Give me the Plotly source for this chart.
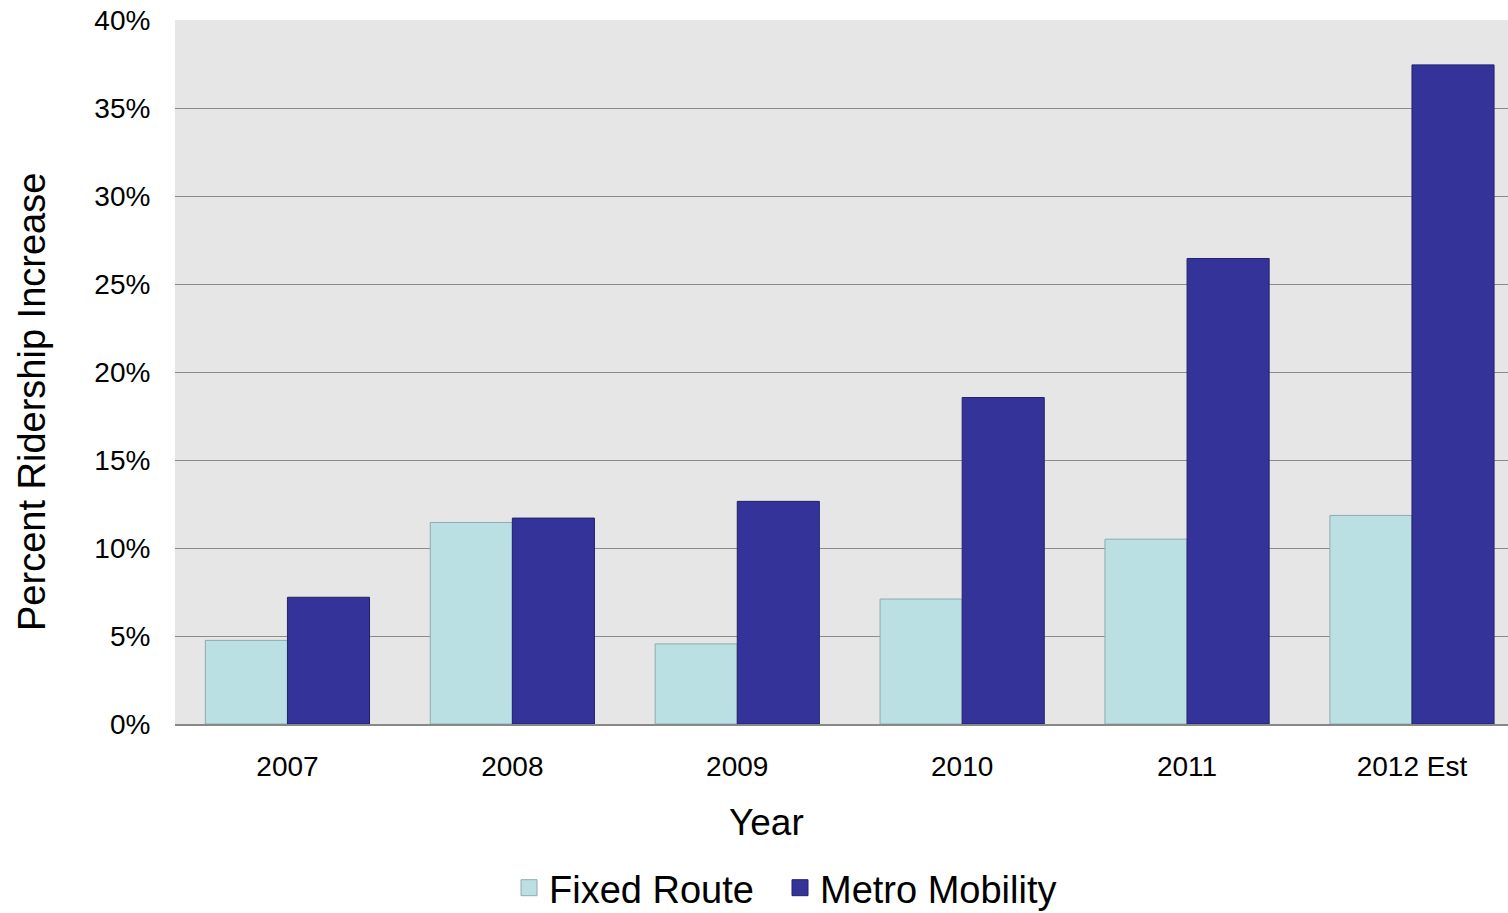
import plotly.graph_objects as go

years = ["2007", "2008", "2009", "2010", "2011", "2012 Est"]
fixed_route = [4.75, 11.45, 4.55, 7.1, 10.5, 11.85]
metro_mobility = [7.2, 11.7, 12.65, 18.55, 26.45, 37.45]
y_ticks = [0, 5, 10, 15, 20, 25, 30, 35, 40]

FONT = "Arial, 'Liberation Sans', sans-serif"
FIXED_COLOR = "#BBE0E3"
METRO_COLOR = "#333399"

# plot-area geometry in pixels
PLOT_LEFT, PLOT_TOP, PLOT_BOTTOM, FIG_W, FIG_H = 175, 20, 724, 1508, 913
PLOT_W = FIG_W - PLOT_LEFT
PLOT_H = PLOT_BOTTOM - PLOT_TOP

fig = go.Figure()
fig.add_trace(go.Bar(
    x=years, y=fixed_route, name="Fixed Route",
    marker=dict(color=FIXED_COLOR, line=dict(color="#8FAAAD", width=1)),
    showlegend=False,
))
fig.add_trace(go.Bar(
    x=years, y=metro_mobility, name="Metro Mobility",
    marker=dict(color=METRO_COLOR, line=dict(color="#22226E", width=1)),
    showlegend=False,
))

# square swatches for the legend (non-breaking spaces widen the gap between entries)
fig.add_trace(go.Scatter(
    x=[None], y=[None], mode="markers", name="Fixed Route\u00a0\u00a0",
    marker=dict(symbol="square", size=20, color=FIXED_COLOR,
                line=dict(color="#8FAAAD", width=1)),
))
fig.add_trace(go.Scatter(
    x=[None], y=[None], mode="markers", name="Metro Mobility",
    marker=dict(symbol="square", size=20, color=METRO_COLOR,
                line=dict(color="#22226E", width=1)),
))

fig.update_layout(
    width=FIG_W, height=FIG_H,
    margin=dict(l=PLOT_LEFT, r=0, t=PLOT_TOP, b=FIG_H - PLOT_BOTTOM,
                autoexpand=False),
    paper_bgcolor="white",
    plot_bgcolor="#E6E6E6",
    barmode="group",
    bargap=0.27,
    bargroupgap=0,
    font=dict(family=FONT, color="black", size=28),
    showlegend=True,
    legend=dict(
        orientation="h",
        x=(509 - PLOT_LEFT) / PLOT_W, xanchor="left",
        y=-(888 - PLOT_BOTTOM) / PLOT_H, yanchor="middle",
        font=dict(size=38, family=FONT),
        itemwidth=30,
        bgcolor="rgba(0,0,0,0)",
        tracegroupgap=0,
    ),
    xaxis=dict(
        type="category",
        range=[-0.5, 5.427],
        showgrid=False,
        showline=True, linecolor="#888888", linewidth=2,
        ticks="outside", ticklen=16, tickcolor="rgba(0,0,0,0)",
        tickfont=dict(size=28),
        zeroline=False,
    ),
    yaxis=dict(
        range=[0, 40],
        tickvals=y_ticks,
        ticktext=[f"{v}%" for v in y_ticks],
        showgrid=True, gridcolor="#8C8C8C", gridwidth=1,
        zeroline=False,
        showline=False,
        ticks="outside", ticklen=18, tickcolor="rgba(0,0,0,0)",
        tickfont=dict(size=28),
    ),
    annotations=[
        dict(text="Year", xref="paper", yref="paper",
             x=(766 - PLOT_LEFT) / PLOT_W, y=-(822 - PLOT_BOTTOM) / PLOT_H,
             xanchor="center", yanchor="middle", showarrow=False,
             font=dict(size=37, family=FONT)),
        dict(text="Percent Ridership Increase", xref="paper", yref="paper",
             x=-(PLOT_LEFT - 32) / PLOT_W, y=(PLOT_BOTTOM - 402) / PLOT_H,
             xanchor="center", yanchor="middle", showarrow=False,
             textangle=-90, font=dict(size=38, family=FONT)),
    ],
)

fig.write_html("out.html")
